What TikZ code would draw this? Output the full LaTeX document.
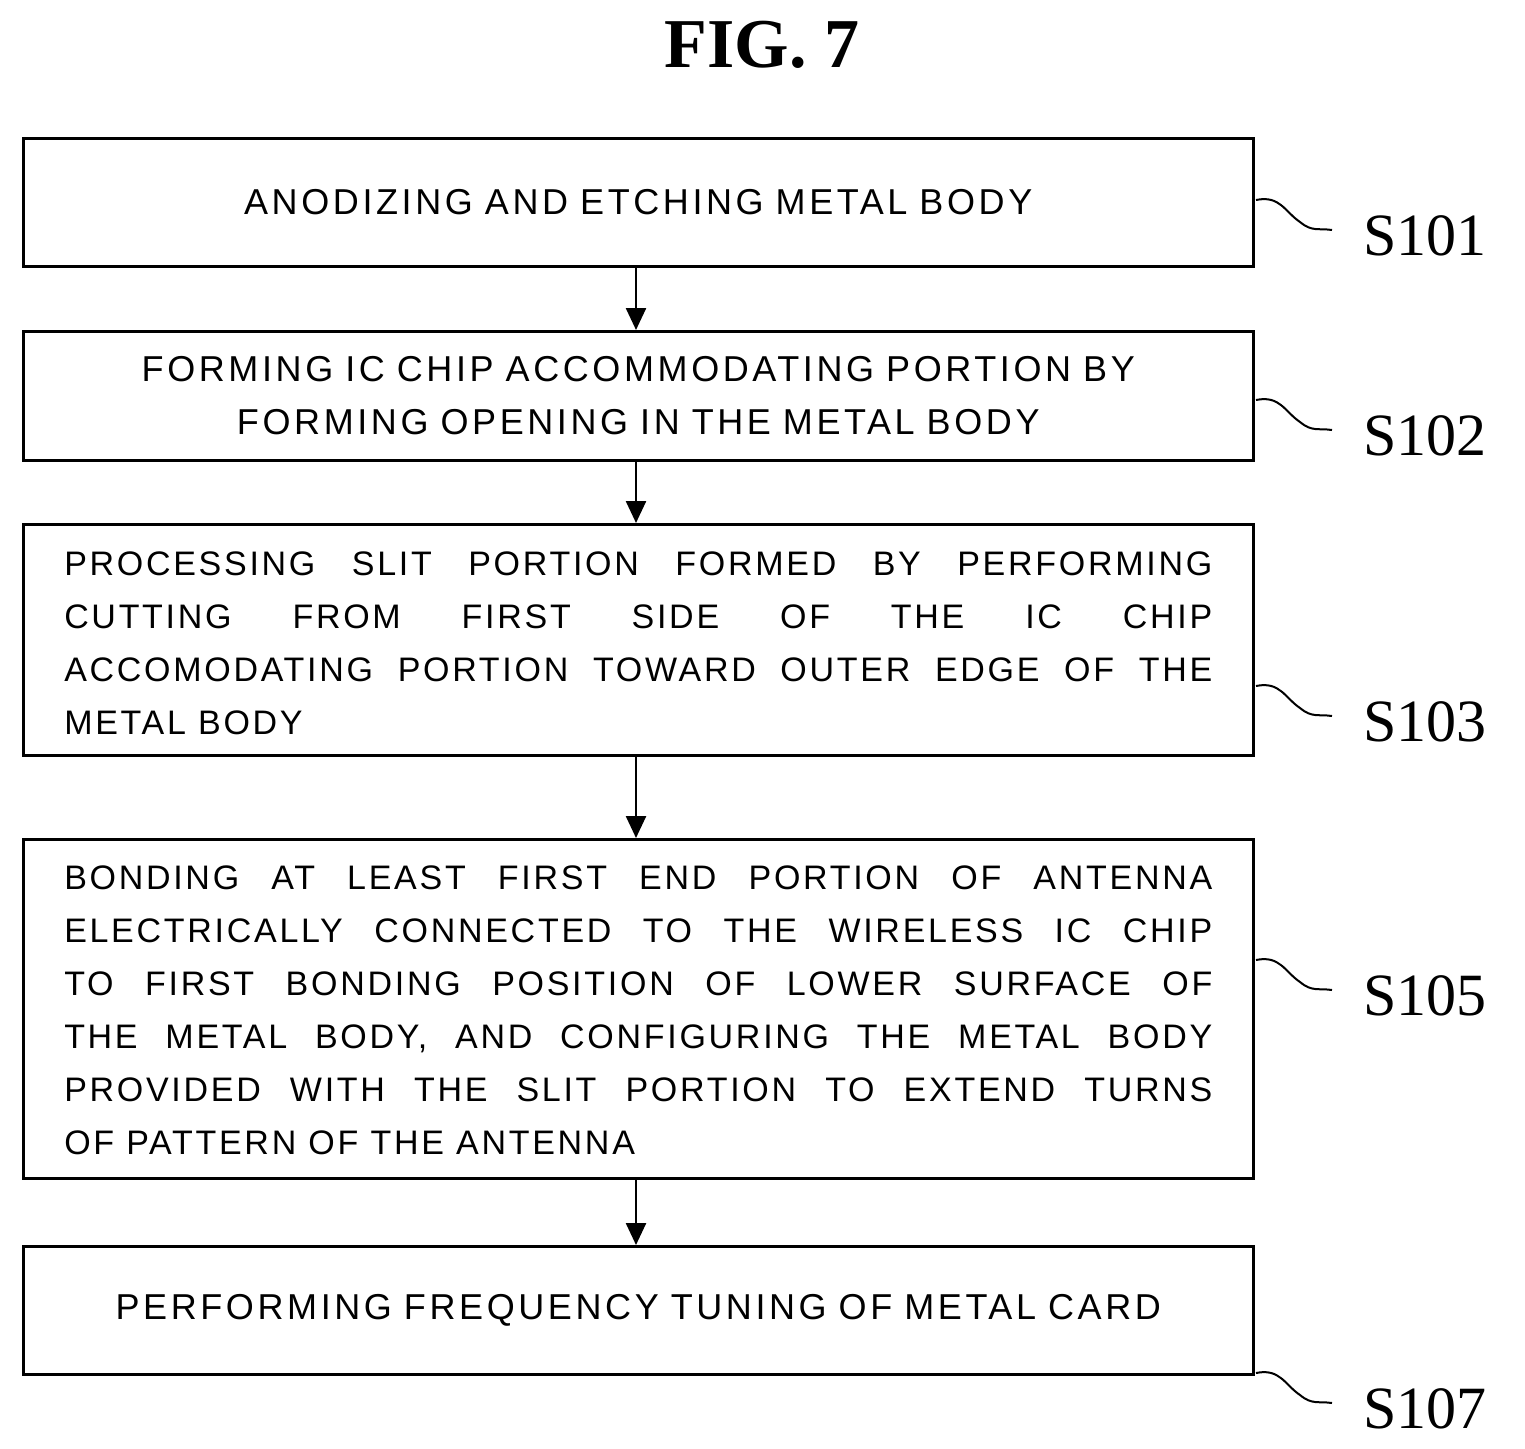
\documentclass[tikz,border=0pt]{standalone}
\usepackage{fontspec}
\setmainfont{Liberation Serif}
\newfontfamily\boxfont[LetterSpace=8]{Liberation Sans}
\newfontfamily\cboxfont[LetterSpace=10,WordSpace=1.8]{Liberation Sans}
\usetikzlibrary{arrows.meta}
\begin{document}
\begin{tikzpicture}[x=1pt,y=-1pt,
  box/.style={draw,line width=2.5pt,minimum width=1230pt,anchor=north west,inner sep=0pt},
  txt/.style={font=\boxfont\fontsize{34}{53}\selectfont,text width=1148pt},
  ctxt/.style={font=\cboxfont\fontsize{36}{53}\selectfont,text width=1160pt,align=center},
  lab/.style={font=\fontsize{60}{64}\selectfont,anchor=west},
  arr/.style={line width=2.5pt,-{Triangle[length=22pt,width=20pt]}},
  sq/.style={line width=2pt}]
\useasboundingbox (0,0) rectangle (1525,1448);
\node[font=\bfseries\fontsize{70}{72}\selectfont] (title) at (762,45) {FIG. 7};
\node[box,minimum height=128pt] (b1) at (22,137) {};
\node[box,minimum height=129pt] (b2) at (22,330) {};
\node[box,minimum height=231pt] (b3) at (22,523) {};
\node[box,minimum height=339pt] (b4) at (22,838) {};
\node[box,minimum height=128pt] (b5) at (22,1245) {};
\node[ctxt] (t1) at (b1.center) {ANODIZING AND ETCHING METAL BODY};
\node[ctxt] (t2) at (b2.center) {FORMING IC CHIP ACCOMMODATING PORTION BY\\FORMING OPENING IN THE METAL BODY};
\node[txt,align=justify] (t3) at ([yshift=-4pt]b3.center) {PROCESSING SLIT PORTION FORMED BY PERFORMING\linebreak CUTTING FROM FIRST SIDE OF THE IC CHIP\linebreak ACCOMODATING PORTION TOWARD OUTER EDGE OF THE\linebreak METAL BODY};
\node[txt,align=justify] (t4) at ([yshift=-2pt]b4.center) {BONDING AT LEAST FIRST END PORTION OF ANTENNA\linebreak ELECTRICALLY CONNECTED TO THE WIRELESS IC CHIP\linebreak TO FIRST BONDING POSITION OF LOWER SURFACE OF\linebreak THE METAL BODY, AND CONFIGURING THE METAL BODY\linebreak PROVIDED WITH THE SLIT PORTION TO EXTEND TURNS\linebreak OF PATTERN OF THE ANTENNA};
\node[ctxt] (t5) at (b5.center) {PERFORMING FREQUENCY TUNING OF METAL CARD};
\draw[arr] (b1.south -| 636,0) -- (b2.north -| 636,0);
\draw[arr] (b2.south -| 636,0) -- (b3.north -| 636,0);
\draw[arr] (b3.south -| 636,0) -- (b4.north -| 636,0);
\draw[arr] (b4.south -| 636,0) -- (b5.north -| 636,0);
\foreach \n/\y/\l in {1/200/S101,2/400/S102,3/686/S103,4/960/S105,5/1373/S107}{
  \coordinate (s\n) at (1256,\y);
  \coordinate (e\n) at (1332,\y+30);
  \draw[sq] (s\n) .. controls (1280,\y-5) and (1285,\y+12) .. (1300,\y+22) .. controls (1312,\y+32) and (1318,\y+28) .. (e\n);
  \node[lab] (l\n) at (1360,\y+36) {\l};
}
\end{tikzpicture}
\end{document}
